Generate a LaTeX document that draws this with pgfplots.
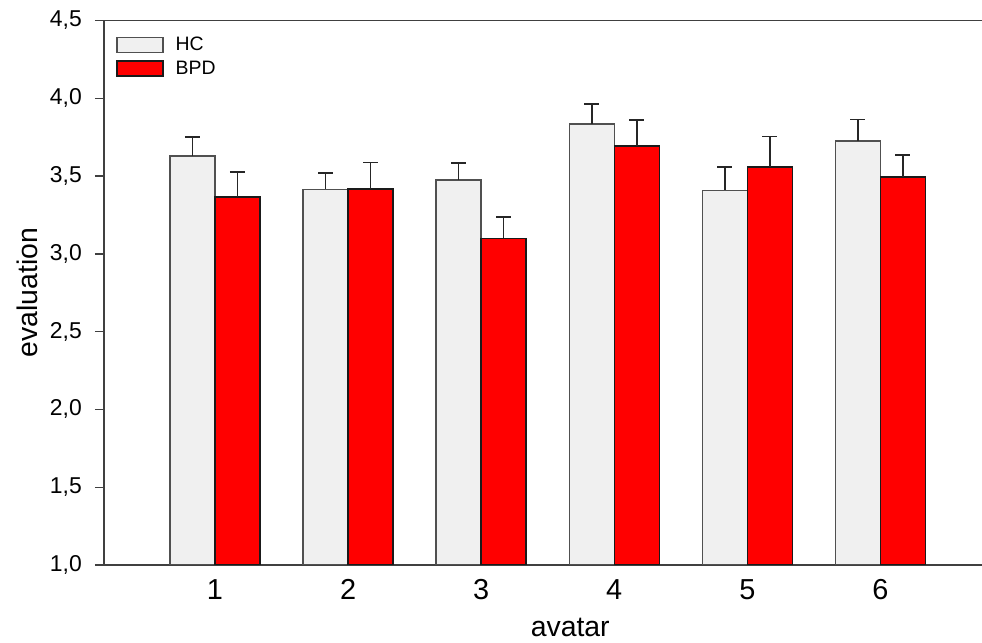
\documentclass[border=0pt]{standalone}
\usepackage{fontspec}
\setmainfont{Liberation Sans}
\usepackage{pgfplots}
\pgfplotsset{compat=1.18}
\definecolor{hcfill}{HTML}{F0F0F0}
\definecolor{hcdraw}{HTML}{505050}
\definecolor{bpddraw}{HTML}{1A1A1A}
\definecolor{axgray}{HTML}{404040}
\begin{document}
\begin{tikzpicture}
\begin{axis}[
  name=ax,
  scale only axis,
  width=878bp, height=544.5bp,
  xmin=0.166, xmax=6.763,
  ymin=1, ymax=4.5,
  axis x line*=box, axis y line*=left,
  axis line style={-, draw=axgray, line width=1.8bp},
  ybar=0pt, bar width=45bp,
  xtick={1,2,3,4,5,6},
  xticklabels={1,2,3,4,5,6},
  xticklabel pos=lower,
  x tick style={draw=none},
  ytick={1,1.5,2,2.5,3,3.5,4,4.5},
  y tick style={draw=axgray, line width=1.3bp},
  tick align=outside,
  major tick length=9bp,
  /pgf/number format/assume math mode=true,
  yticklabel={\pgfmathprintnumber[fixed, fixed zerofill, precision=1, use comma]{\tick}},
  yticklabel style={font=\fontsize{23}{26}\selectfont, inner sep=0pt, anchor=east, xshift=-13bp},
  xticklabel style={font=\fontsize{29}{32}\selectfont, inner sep=0pt, anchor=north, yshift=-5bp},
  xlabel={avatar},
  ylabel={evaluation},
  xlabel style={font=\fontsize{28.5}{32}\selectfont, at={(rel axis cs:0.531,0)}, anchor=base, yshift=-72bp, inner sep=0pt},
  ylabel style={font=\fontsize{28.5}{32}\selectfont, at={(rel axis cs:0,0.5)}, anchor=north, yshift=87bp, inner sep=0pt},
  legend style={draw=none, fill=none, at={(rel axis cs:0,1)}, anchor=north west,
    xshift=12bp, yshift=-16bp, inner sep=0pt, font=\fontsize{19.5}{22}\selectfont,
    nodes={inner sep=0pt, minimum height=15bp}, row sep=7.3bp,
    /tikz/column 1/.style={column sep=12bp}},
  legend cell align=left,
  legend image code/.code={\draw[#1, line width=1.5bp] (0bp,-7.5bp) rectangle (46bp,7.5bp);},
  error bars/y dir=plus, error bars/y explicit,
  error bars/error bar style={draw=black!85, line width=1.5bp},
  error bars/error mark options={rotate=90, mark size=7.5bp, line width=1.5bp, draw=black!85},
]
\addplot[fill=hcfill, draw=hcdraw, line width=1.5bp] coordinates {
  (1,3.629) +- (0,0.122)
  (2,3.414) +- (0,0.107)
  (3,3.474) +- (0,0.110)
  (4,3.836) +- (0,0.127)
  (5,3.408) +- (0,0.150)
  (6,3.727) +- (0,0.137)
};
\addplot[fill=red, draw=bpddraw, line width=1.5bp] coordinates {
  (1,3.367) +- (0,0.159)
  (2,3.418) +- (0,0.168)
  (3,3.100) +- (0,0.137)
  (4,3.693) +- (0,0.167)
  (5,3.558) +- (0,0.195)
  (6,3.494) +- (0,0.143)
};
\legend{HC,BPD}
\end{axis}
\pgfresetboundingbox
\path[use as bounding box] ([xshift=-104bp,yshift=-78bp]ax.south west) rectangle ([yshift=20.5bp]ax.north east);
\end{tikzpicture}
\end{document}
